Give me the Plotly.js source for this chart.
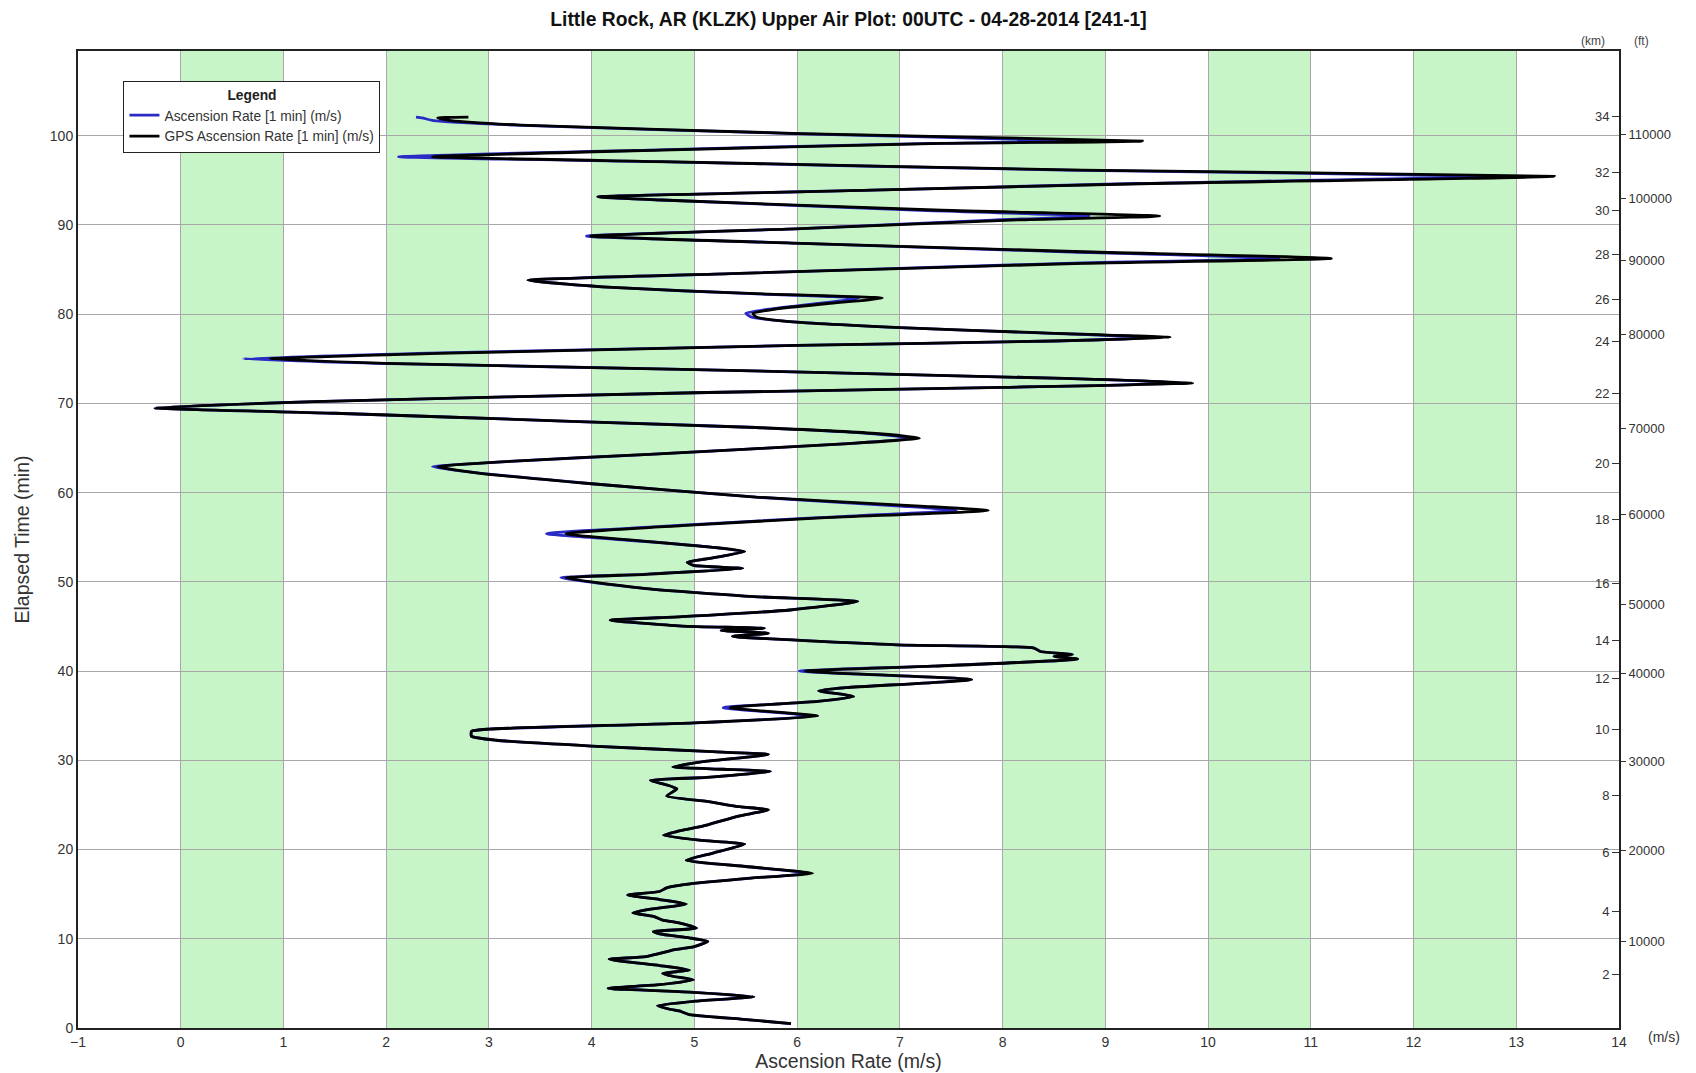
<!DOCTYPE html>
<html><head><meta charset="utf-8">
<script src="https://cdn.plot.ly/plotly-3.0.1.min.js"></script>
<style>html,body{margin:0;padding:0;background:#fff}#chart{width:1696px;height:1073px}</style>
</head><body><div id="chart"></div>
<script>
// Elapsed time (min) for each sample
const elapsedMin = [0.5,1.0,1.5,1.85,2.1,2.5,3.0,3.5,4.0,4.45,4.85,5.4,5.8,6.1,6.5,7.0,7.7,8.0,8.8,9.1,9.7,10.1,10.55,10.8,11.2,11.75,12.1,12.5,12.9,13.25,13.9,14.4,14.9,15.3,15.7,16.2,16.8,17.35,18.1,18.8,19.6,20.6,21.05,21.6,22.25,22.75,23.75,24.45,24.8,25.4,26.0,26.8,27.25,27.75,28.1,28.75,29.0,29.25,29.9,30.65,31.0,31.6,32.25,32.7,33.25,33.5,34.2,34.95,35.9,36.6,37.15,37.8,38.15,39.05,40.0,40.55,41.35,41.65,41.85,42.2,42.6,42.95,43.9,44.25,44.55,44.8,45.05,45.7,46.1,46.85,47.8,48.35,49.25,50.45,50.85,51.5,51.85,52.2,52.6,53.4,53.9,54.55,55.4,56.3,57.2,58.0,58.5,59.5,61.0,62.2,62.9,63.5,64.3,65.5,66.1,66.6,67.3,68.0,68.9,69.5,70.2,71.2,71.8,72.3,72.8,73.8,74.5,75.0,75.6,76.5,77.0,77.4,77.9,78.5,79.2,79.7,80.1,80.6,81.2,81.8,82.3,83.0,83.8,84.55,85.7,86.25,87.0,87.95,88.75,89.6,90.55,91.0,91.65,92.8,93.15,93.9,94.65,95.45,96.15,97.1,97.65,98.4,99.15,99.4,100.25,101.2,101.7,102.0,102.1];
// GPS Ascension Rate [1 min] (m/s) - black
const gpsRate = [5.94,5.45,4.95,4.87,4.76,4.64,5.0,5.58,4.99,4.16,4.66,4.99,4.79,4.69,4.95,4.66,4.17,4.53,4.82,4.99,5.13,4.95,4.66,4.6,5.02,4.86,4.69,4.6,4.4,4.53,4.92,4.66,4.35,4.66,4.73,4.99,5.55,6.15,5.5,4.92,5.18,5.49,5.05,4.70,4.92,5.12,5.43,5.72,5.44,5.12,4.73,4.83,4.73,4.57,5.12,5.74,5.28,4.79,5.12,5.72,5.12,4.0,3.07,2.83,2.83,3.0,5.0,6.2,5.35,6.2,6.55,6.21,6.48,7.7,6.08,7.32,8.73,8.5,8.68,8.37,8.3,6.97,5.37,5.72,5.26,5.68,4.88,4.18,4.88,5.93,6.59,5.58,4.53,3.75,4.53,5.47,4.99,4.93,5.13,5.49,5.16,4.53,3.75,4.88,6.28,7.86,7.2,5.6,4.0,2.9,2.5,3.2,4.56,6.5,7.19,6.8,5.6,3.8,1.5,-0.25,1.3,5.0,8.0,9.85,8.6,5.0,2.0,0.87,2.5,6.0,8.5,9.63,8.4,7.0,5.9,5.6,5.57,5.8,6.3,6.83,5.6,4.2,3.38,5.36,8.78,11.2,8.78,6.04,3.99,6.04,8.09,9.53,7.41,4.68,4.06,6.73,9.46,13.37,8.78,4.68,2.45,4.68,7.41,9.36,6.04,3.31,2.63,2.5,2.8];
// Ascension Rate [1 min] (m/s) - blue
const ascRate = [5.94,5.45,4.95,4.87,4.76,4.64,5.0,5.58,4.99,4.16,4.66,4.99,4.79,4.69,4.95,4.66,4.17,4.53,4.82,4.99,5.13,4.95,4.66,4.6,5.02,4.86,4.69,4.6,4.4,4.53,4.92,4.66,4.35,4.66,4.73,4.99,5.55,6.12,5.5,4.92,5.18,5.49,5.05,4.70,4.92,5.12,5.43,5.72,5.44,5.12,4.73,4.83,4.73,4.57,5.12,5.74,5.28,4.79,5.12,5.72,5.12,4.0,3.07,2.83,2.83,3.0,5.0,6.15,5.28,6.2,6.55,6.21,6.48,7.7,6.02,7.32,8.73,8.5,8.68,8.37,8.3,6.97,5.37,5.72,5.26,5.68,4.88,4.18,4.88,5.93,6.59,5.58,4.53,3.7,4.5,5.47,4.99,4.93,5.13,5.49,5.16,4.5,3.56,4.8,6.2,7.55,7.0,5.6,4.0,2.9,2.45,3.2,4.56,6.5,7.12,6.75,5.6,3.8,1.5,-0.25,1.3,5.0,8.0,9.8,8.6,5.0,1.9,0.61,2.3,6.0,8.5,9.5,8.35,7.0,5.9,5.55,5.5,5.75,6.2,6.6,5.55,4.2,3.38,5.36,8.6,10.69,8.6,6.04,3.95,6.04,7.9,8.84,7.2,4.68,4.06,6.73,9.3,12.79,8.6,4.6,2.12,4.55,7.3,8.78,5.95,3.25,2.46,2.35,2.29];

const xTicks = [-1,0,1,2,3,4,5,6,7,8,9,10,11,12,13,14];
const yTicks = [0,10,20,30,40,50,60,70,80,90,100];
const kmLabels = ['2','4','6','8','10','12','14','16','18','20','22','24','26','28','30','32','34'];
const kmTimes = [6.01,13.07,19.72,26.08,33.45,39.17,43.46,49.82,56.99,63.27,71.12,76.9,81.66,86.74,91.67,95.85,102.2];
const ftLabels = ['10000','20000','30000','40000','50000','60000','70000','80000','90000','100000','110000'];
const ftTimes = [9.71,19.91,29.89,39.72,47.49,57.58,67.19,77.77,85.98,92.98,100.16];
const bandStarts = [0,2,4,6,8,10,12];

const yRange = [0, 109.5];
const xRange = [-1.0002, 14.0002];
const FONT = 'Liberation Sans, Arial, Helvetica, sans-serif';

const traces = [
  {x: ascRate, y: elapsedMin, type:'scatter', mode:'lines', name:'Ascension Rate [1 min] (m/s)',
   line:{color:'#2a2ac4', width:2.8, shape:'spline', smoothing:0.5}, hoverinfo:'x+y'},
  {x: gpsRate, y: elapsedMin, type:'scatter', mode:'lines', name:'GPS Ascension Rate [1 min] (m/s)',
   line:{color:'#000000', width:2.8, shape:'spline', smoothing:0.5}, hoverinfo:'x+y'},
  {x:[gpsRate[0]], y:[elapsedMin[0]], yaxis:'y2', type:'scatter', mode:'markers', marker:{opacity:0}, showlegend:false, hoverinfo:'skip'},
  {x:[gpsRate[0]], y:[elapsedMin[0]], yaxis:'y3', type:'scatter', mode:'markers', marker:{opacity:0}, showlegend:false, hoverinfo:'skip'}
];

const layout = {
  width:1696, height:1073,
  margin:{l:78, r:77, t:51, b:45},
  paper_bgcolor:'#ffffff', plot_bgcolor:'#ffffff',
  font:{family:FONT, color:'#333333', size:14},
  showlegend:true,
  title:{text:'Little Rock, AR (KLZK) Upper Air Plot: 00UTC - 04-28-2014 [241-1]',
         font:{family:FONT, size:19.3, color:'#111111', weight:'bold'},
         x:0.5, xref:'paper', xanchor:'center', y:1-19/1073, yref:'container', yanchor:'middle'},
  xaxis:{range:xRange, tickmode:'array', tickvals:xTicks, ticks:'', showgrid:true, gridcolor:'#a8a8a8', gridwidth:1,
         zeroline:false, showline:true, linecolor:'#222222', linewidth:2, mirror:true, automargin:false,
         tickfont:{size:14, color:'#333333'},
         title:{text:'Ascension Rate (m/s)', font:{size:19.5, color:'#333333'}, standoff:3}},
  yaxis:{range:yRange, tickmode:'array', tickvals:yTicks, ticks:'', showgrid:true, gridcolor:'#a8a8a8', gridwidth:1,
         zeroline:false, showline:true, linecolor:'#222222', linewidth:2, mirror:true, automargin:false,
         tickfont:{size:14, color:'#333333'},
         title:{text:'Elapsed Time (min)', font:{size:19.5, color:'#333333'}, standoff:15}},
  yaxis2:{overlaying:'y', side:'left', anchor:'free', position:1, range:yRange, tickmode:'array', tickvals:kmTimes, ticktext:kmLabels,
          ticks:'outside', ticklen:7, tickcolor:'#333333', tickwidth:1,
          showgrid:false, zeroline:false, showline:false, automargin:false, tickfont:{size:13, color:'#333333'}},
  yaxis3:{overlaying:'y', side:'right', anchor:'x', range:yRange, tickmode:'array', tickvals:ftTimes, ticktext:ftLabels,
          ticks:'outside', ticklen:6, tickcolor:'#333333', tickwidth:1,
          showgrid:false, zeroline:false, showline:false, automargin:false, tickfont:{size:13, color:'#333333'}},
  legend:{x:0.0295, y:0.9696, xanchor:'left', yanchor:'top', bgcolor:'#ffffff', bordercolor:'#222222', borderwidth:1,
          font:{size:13.8, color:'#333333'}, tracegroupgap:0,
          title:{text:'<b>Legend</b>', side:'top center', font:{size:13.8, color:'#222222'}}},
  shapes: bandStarts.map(s => ({type:'rect', xref:'x', yref:'paper', x0:s, x1:s+1, y0:0, y1:1,
          fillcolor:'#c8f5c8', line:{width:0}, layer:'below'})),
  annotations:[
    {text:'(km)', xref:'paper', yref:'paper', x:0.983, y:1.0102, showarrow:false, font:{size:12, color:'#444444'}, xanchor:'center', yanchor:'middle'},
    {text:'(ft)', xref:'paper', yref:'paper', x:1.0148, y:1.0102, showarrow:false, font:{size:12, color:'#444444'}, xanchor:'center', yanchor:'middle'},
    {text:'(m/s)', xref:'paper', yref:'paper', x:1.0295, y:-0.0088, showarrow:false, font:{size:14, color:'#333333'}, xanchor:'center', yanchor:'middle'}
  ]
};

Plotly.newPlot('chart', traces, layout, {displayModeBar:false, responsive:false});
</script>
</body></html>
